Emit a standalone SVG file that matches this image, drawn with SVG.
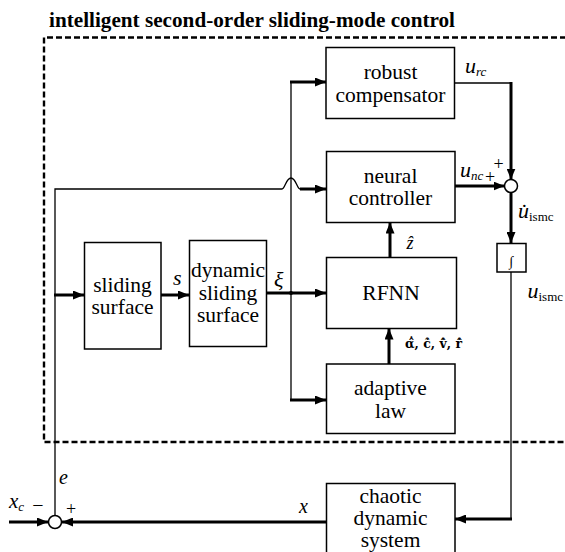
<svg xmlns="http://www.w3.org/2000/svg" width="565" height="552" viewBox="0 0 565 552">
<defs>
<style>
.box{fill:#fff;stroke:#000;stroke-width:1.5}
.f{font-family:'Liberation Serif','Times New Roman',Times,'DejaVu Serif',serif}
.t{font-family:'Liberation Serif','Times New Roman',Times,'DejaVu Serif',serif;font-size:21.5px;text-anchor:middle;fill:#000}
.it{font-family:'Liberation Serif','Times New Roman',Times,'DejaVu Serif',serif;font-style:italic;fill:#000}
.rm{font-family:'Liberation Serif','Times New Roman',Times,'DejaVu Serif',serif;fill:#000}
.thin{fill:none;stroke:#000;stroke-width:1.3}
.thick{fill:none;stroke:#000;stroke-width:3}
.arr{marker-end:url(#ah)}
</style>
<marker id="ah" markerUnits="userSpaceOnUse" markerWidth="11" markerHeight="9" refX="11" refY="4.5" orient="auto">
<path d="M0,0 L11,4.5 L0,9 z" fill="#000"/>
</marker>
</defs>
<rect width="565" height="552" fill="#fff"/>
<text class="f" x="49" y="27" font-weight="bold" font-size="21" textLength="406" lengthAdjust="spacingAndGlyphs">intelligent second-order sliding-mode control</text>
<path d="M575,37.5 L44,37.5 L44,442 L575,442" fill="none" stroke="#000" stroke-width="2.4" stroke-dasharray="6,3"/>

<g id="connectors">
<path class="thick arr" d="M9,522 L48,522"/>
<path class="thick arr" d="M326,522 L62,522"/>
<path class="thin" d="M55,515.5 L55,189 L282,189 C285,189 286,178 291,178 C296,178 297,189 300,189"/>
<path class="thick arr" d="M300,189 L326,189"/>
<path class="thick arr" d="M54,295 L84,295"/>
<path class="thick arr" d="M161,295 L189,295"/>
<path class="thick arr" d="M267,293 L326,293"/>
<circle cx="291" cy="293" r="2" fill="#000"/>
<path class="thin" d="M291,82 L291,400"/>
<path class="thick arr" d="M290,82 L326,82"/>
<path class="thick arr" d="M290,400 L326,400"/>
<path class="thick arr" d="M390,257.5 L390,222.5"/>
<path class="thick arr" d="M389,364 L389,328.5"/>
<path class="thick arr" d="M455,186 L504.5,186"/>
<path class="thin" d="M454,83 L511,83"/>
<path class="thick arr" d="M511,82 L511,179.5"/>
<path class="thick arr" d="M511,192.5 L511,243"/>
<path class="thin" d="M511,272 L511,519"/>
<path class="thick arr" d="M512,519 L455,519"/>
</g>

<g id="sum1"><circle cx="511" cy="186" r="6.5" fill="#fff" stroke="#000" stroke-width="1.5"/></g>
<g id="sum2"><circle cx="55" cy="522" r="6.5" fill="#fff" stroke="#000" stroke-width="1.5"/></g>

<g id="robust"><rect class="box" x="326" y="47.5" width="128.5" height="71"/>
<text class="t" x="390.5" y="79">robust</text><text class="t" x="390.5" y="101.5">compensator</text></g>
<g id="neural"><rect class="box" x="326.5" y="151.5" width="128.5" height="71"/>
<text class="t" x="390.5" y="183">neural</text><text class="t" x="390.5" y="205">controller</text></g>
<g id="rfnn"><rect class="box" x="326.5" y="257.5" width="130" height="71"/>
<text class="t" x="391" y="300">RFNN</text></g>
<g id="adaptive"><rect class="box" x="326.5" y="364" width="128.5" height="69.5"/>
<text class="t" x="390.5" y="395">adaptive</text><text class="t" x="390.5" y="417.5">law</text></g>
<g id="sliding"><rect class="box" x="84.5" y="242.5" width="76.5" height="106.5"/>
<text class="t" x="122.5" y="291.5">sliding</text><text class="t" x="122.5" y="313.5">surface</text></g>
<g id="dynamic"><rect class="box" x="189.5" y="240.5" width="77" height="106"/>
<text class="t" x="228" y="277">dynamic</text><text class="t" x="228" y="299.5">sliding</text><text class="t" x="228" y="322">surface</text></g>
<g id="integrator"><rect class="box" x="497" y="243.5" width="29" height="28.5"/>
<text class="rm" x="511.5" y="266" font-size="14" text-anchor="middle">∫</text></g>
<g id="chaotic"><rect class="box" x="326.5" y="483.5" width="128.5" height="80"/>
<text class="t" x="390.5" y="503">chaotic</text><text class="t" x="390.5" y="525">dynamic</text><text class="t" x="390.5" y="547">system</text></g>

<g id="labels">
<text class="it" x="465" y="73" font-size="22">u<tspan font-size="13" dy="3">rc</tspan></text>
<text class="it" x="460" y="177" font-size="22">u<tspan font-size="13" dy="3">nc</tspan></text>
<text class="rm" x="498.5" y="170" font-size="18" text-anchor="middle">+</text>
<text class="rm" x="490" y="183" font-size="18" text-anchor="middle">+</text>
<text class="it" x="518" y="218" font-size="22">u̇<tspan font-style="normal" font-size="13" dy="3">ismc</tspan></text>
<text class="it" x="527.5" y="298" font-size="22">u<tspan font-style="normal" font-size="13" dy="3">ismc</tspan></text>
<text class="it" x="406.5" y="249" font-size="18">ẑ</text>
<text font-family="'DejaVu Serif',serif" font-size="13" font-weight="bold" x="405" y="348" textLength="57" lengthAdjust="spacingAndGlyphs">α̂̇, ĉ̇, v̂̇, r̂̇</text>
<text class="it" x="173" y="285" font-size="22">s</text>
<text class="it" x="274" y="287" font-size="22">ξ</text>
<text class="it" x="59" y="484" font-size="20">e</text>
<text class="it" x="299" y="513" font-size="20">x</text>
<text class="it" x="9" y="508" font-size="21">x<tspan font-size="13" dy="3">c</tspan></text>
<text class="rm" x="38" y="512" font-size="20" text-anchor="middle">−</text>
<text class="rm" x="71" y="515" font-size="18" text-anchor="middle">+</text>
</g>
</svg>
